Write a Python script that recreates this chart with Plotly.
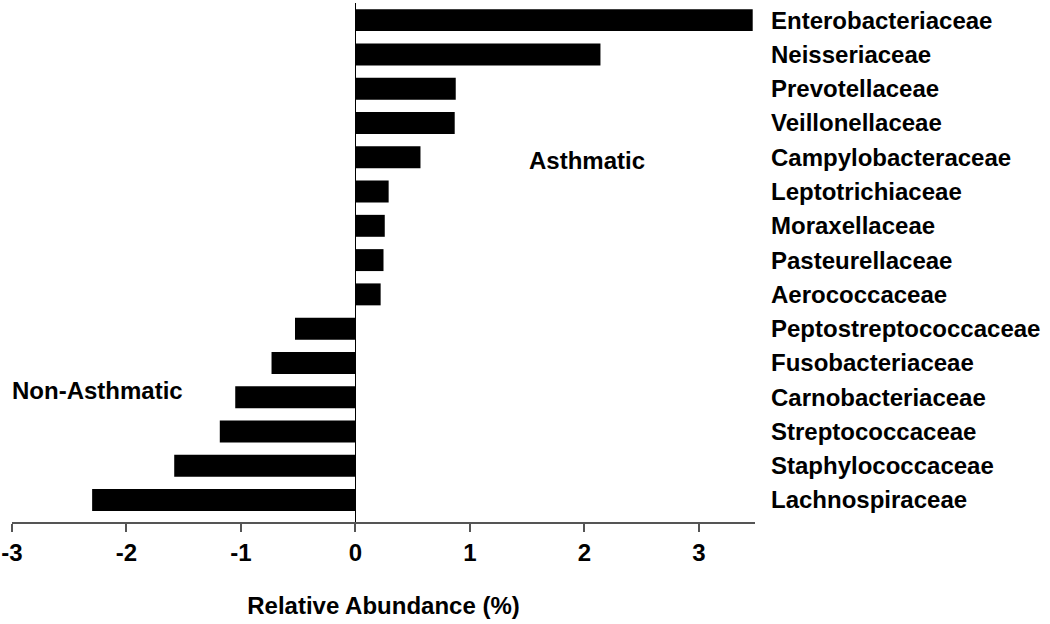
import plotly.graph_objects as go

families = ["Enterobacteriaceae", "Neisseriaceae", "Prevotellaceae", "Veillonellaceae",
            "Campylobacteraceae", "Leptotrichiaceae", "Moraxellaceae", "Pasteurellaceae",
            "Aerococcaceae", "Peptostreptococcaceae", "Fusobacteriaceae", "Carnobacteriaceae",
            "Streptococcaceae", "Staphylococcaceae", "Lachnospiraceae"]
abundance = [3.47, 2.14, 0.876, 0.867, 0.568, 0.29, 0.256, 0.245, 0.22,
             -0.528, -0.733, -1.05, -1.185, -1.583, -2.30]
x_ticks = [-3, -2, -1, 0, 1, 2, 3]
x_title = "Relative Abundance (%)"
group_labels = ["Asthmatic", "Non-Asthmatic"]

FONT = "Liberation Sans, Arial, sans-serif"
FS = 24

fig = go.Figure(go.Bar(
    x=abundance, y=families, orientation="h",
    marker=dict(color="black", line=dict(width=0)),
))

fig.update_layout(
    width=1050, height=624,
    margin=dict(l=12, r=295, t=3, b=102),
    plot_bgcolor="white", paper_bgcolor="white",
    bargap=0.36, showlegend=False,
    font=dict(family=FONT, size=FS, color="black", weight="bold"),
)

fig.update_xaxes(
    range=[-3, 3.49], tickvals=x_ticks, ticktext=[str(v) for v in x_ticks],
    automargin=False,
    showgrid=False, zeroline=True, zerolinecolor="black", zerolinewidth=1.2,
    showline=True, linecolor="#555555", linewidth=2,
    ticks="outside", ticklen=8, tickwidth=2, tickcolor="#555555",
    tickfont=dict(family=FONT, size=FS, weight="bold"),
    title=dict(text=x_title, font=dict(family=FONT, size=FS, weight="bold"), standoff=32),
)

fig.update_yaxes(
    type="category", categoryorder="array", categoryarray=families,
    range=[14.64, -0.5], side="right", automargin=False,
    showgrid=False, zeroline=False, showline=False, ticks="",
    ticklabelstandoff=15,
    tickfont=dict(family=FONT, size=FS, weight="bold"),
)

fig.add_annotation(x=2.02, y=4.1, text=group_labels[0], showarrow=False,
                   xanchor="center", yanchor="middle",
                   font=dict(family=FONT, size=FS, weight="bold"))
fig.add_annotation(x=-3, y=10.8, text=group_labels[1], showarrow=False,
                   xanchor="left", yanchor="middle", xshift=-2,
                   font=dict(family=FONT, size=FS, weight="bold"))

fig.write_html("out.html", config={"displayModeBar": False},
               post_script="document.body.style.margin='0';document.body.style.padding='0';")
